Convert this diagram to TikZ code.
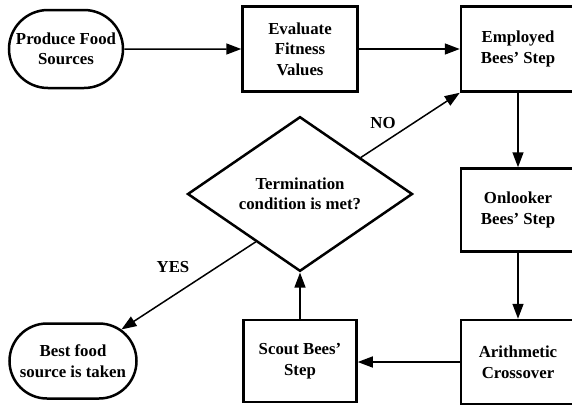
\documentclass[tikz,border=0pt]{standalone}
\usepackage{fontspec}
\setmainfont{Liberation Serif}
\usetikzlibrary{arrows.meta,shapes.misc,shapes.geometric,calc}
\begin{document}
\begin{tikzpicture}[x=1pt,y=1pt,
  every node/.style={font=\fontsize{16.8}{20.5}\selectfont\bfseries, align=center},
  box/.style={draw, line width=2.5pt, rectangle, inner sep=0pt},
  term/.style={draw, line width=2.5pt, rounded rectangle, inner sep=0pt},
  dec/.style={draw, line width=2.5pt, diamond, inner sep=0pt, minimum width=225pt, minimum height=118pt},
  conn/.style={line width=1.5pt, -{Triangle[length=15pt,width=11pt]}},
  lbl/.style={font=\fontsize{16.8}{20.5}\selectfont\bfseries}]
\useasboundingbox (0,0) rectangle (572,-405);
\node[term, minimum width=114pt, minimum height=78pt] (produce) at (66,-49) {Produce Food\\Sources};
\node[box, minimum width=115pt, minimum height=85pt] (eval) at (300,-49) {Evaluate\\Fitness\\Values};
\node[box, minimum width=114pt, minimum height=85pt] (employed) at (518,-49) {Employed\\Bees' Step};
\node[box, minimum width=114pt, minimum height=83pt] (onlooker) at (518,-210) {Onlooker\\Bees' Step};
\node[box, minimum width=114pt, minimum height=84pt] (arith) at (518,-362) {Arithmetic\\Crossover};
\node[box, minimum width=113pt, minimum height=82pt] (scout) at (300,-361) {Scout Bees'\\Step};
\node[dec] (cond) at (300,-194) {Termination\\condition is met?};
\node[term, minimum width=127pt, minimum height=75pt] (best) at (73,-361) {Best food\\source is taken};
\coordinate (nostart) at ($(cond.north)!0.535!(cond.east)$);
\coordinate (yesstart) at ($(cond.west)!0.61!(cond.south)$);
\draw[conn] (produce) -- (eval);
\draw[conn] (eval) -- (employed);
\draw[conn] (employed) -- (onlooker);
\draw[conn] (onlooker) -- (arith);
\draw[conn] (arith.west) -- (arith.west -| scout.east);
\draw[conn] (scout) -- (cond.south);
\draw[conn] (nostart) -- (employed.south west);
\draw[conn] (yesstart) -- (best);
\node[lbl] (no) at (383,-123) {NO};
\node[lbl] (yes) at (173,-267) {YES};
\end{tikzpicture}
\end{document}
